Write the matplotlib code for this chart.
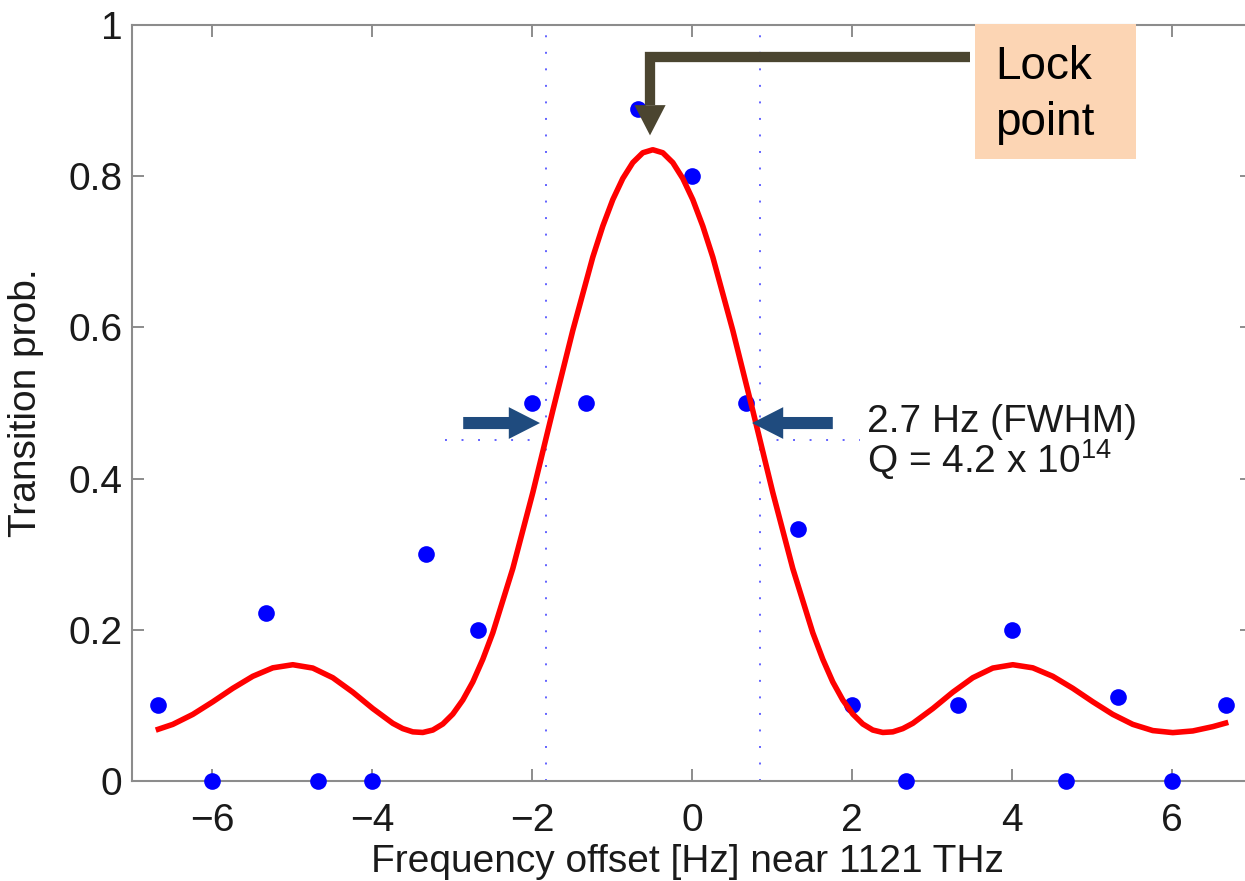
import matplotlib
matplotlib.use("Agg")
import matplotlib.pyplot as plt
from matplotlib.patches import FancyArrow, Polygon, Rectangle

plt.rcParams["font.family"] = ["Liberation Sans", "DejaVu Sans"]
plt.rcParams["mathtext.fontset"] = "custom"
plt.rcParams["mathtext.rm"] = "Liberation Sans"

# measured points (frequency offset in Hz, transition probability)
freq = [-6.67, -6.0, -5.33, -4.67, -4.0, -3.33, -2.67, -2.0, -1.33, -0.67, 0.0,
        0.67, 1.33, 2.0, 2.67, 3.33, 4.0, 4.67, 5.33, 6.0, 6.67]
prob = [0.10, 0.0, 0.222, 0.0, 0.0, 0.30, 0.20, 0.50, 0.50, 0.889, 0.80,
        0.50, 0.333, 0.10, 0.0, 0.10, 0.20, 0.0, 0.111, 0.0, 0.10]

# fitted line shape
fit_x = [-6.67, -6.49, -6.24, -5.99, -5.74, -5.49, -5.24, -4.99, -4.74, -4.49,
         -4.24, -3.99, -3.74, -3.615, -3.49, -3.365, -3.24, -3.115, -2.99, -2.865,
         -2.74, -2.615, -2.49, -2.24, -1.99, -1.74, -1.49, -1.24, -1.115, -0.99,
         -0.865, -0.74, -0.615, -0.49, -0.365, -0.24, -0.115, 0.01, 0.135, 0.26,
         0.51, 0.76, 1.01, 1.26, 1.51, 1.635, 1.76, 1.885, 2.01, 2.135,
         2.26, 2.385, 2.51, 2.635, 2.76, 3.01, 3.26, 3.51, 3.76, 4.01,
         4.26, 4.51, 4.76, 5.01, 5.26, 5.51, 5.76, 6.01, 6.26, 6.51,
         6.67]
fit_y = [0.0685, 0.0749, 0.0881, 0.1048, 0.1226, 0.1385, 0.1497, 0.1538, 0.1494, 0.1366,
         0.1175, 0.0958, 0.0763, 0.0693, 0.0650, 0.0642, 0.0674, 0.0754, 0.0885, 0.1071,
         0.131, 0.161, 0.196, 0.281, 0.3815, 0.490, 0.596, 0.693, 0.734, 0.769,
         0.797, 0.818, 0.831, 0.835, 0.831, 0.818, 0.797, 0.769, 0.734, 0.693,
         0.596, 0.490, 0.3815, 0.281, 0.196, 0.161, 0.131, 0.1071, 0.0885, 0.0754,
         0.0674, 0.0642, 0.0650, 0.0693, 0.0763, 0.0958, 0.1175, 0.1366, 0.1494, 0.1538,
         0.1497, 0.1385, 0.1226, 0.1048, 0.0881, 0.0749, 0.0667, 0.0640, 0.0662, 0.0719,
         0.0766]

x_ticks = [-6, -4, -2, 0, 2, 4, 6]
y_ticks = [0, 0.2, 0.4, 0.6, 0.8, 1.0]
y_tick_labels = ["0", "0.2", "0.4", "0.6", "0.8", "1"]

half_left, half_right, half_level = -1.825, 0.85, 0.451
lock_x, lock_bar_y, lock_head_base, lock_tip = -0.525, 0.9577, 0.894, 0.854

spine_grey = "#8c8c8c"
dot_blue = "#6262ff"
arrow_blue = "#1f4b7e"
lock_brown = "#4b4530"
text_col = "#1a1a1a"

fig = plt.figure(figsize=(12.45, 8.81), dpi=100)
ax = fig.add_axes([132 / 1245, 100 / 881, 1120 / 1245, 756 / 881])

ax.plot(freq, prob, "o", color="#0000ff", markersize=12, markeredgewidth=0,
        clip_on=False, zorder=3)
ax.plot(fit_x, fit_y, color="red", linewidth=4.0, solid_joinstyle="round",
        zorder=4)

# half-maximum markers
for xv in (half_left, half_right):
    ax.axvline(xv, color=dot_blue, linewidth=1.4, dashes=(1, 7.5), zorder=2)
ax.plot([-3.09, half_left], [half_level] * 2, color=dot_blue, linewidth=1.4,
        dashes=(1, 7.5), zorder=2)
ax.plot([half_right, 2.1], [half_level] * 2, color=dot_blue, linewidth=1.4,
        dashes=(1, 7.5), zorder=2)

ax.add_patch(FancyArrow(-2.86, 0.4735, 0.96, 0, width=0.016, head_width=0.042,
                        head_length=0.39, length_includes_head=True,
                        color=arrow_blue, linewidth=0, zorder=5))
ax.add_patch(FancyArrow(1.76, 0.4735, -1.01, 0, width=0.016, head_width=0.042,
                        head_length=0.39, length_includes_head=True,
                        color=arrow_blue, linewidth=0, zorder=5))

# lock point elbow arrow
ax.plot([3.475, lock_x, lock_x], [lock_bar_y, lock_bar_y, lock_head_base],
        color=lock_brown, linewidth=7.4, solid_joinstyle="miter",
        solid_capstyle="butt", zorder=5)
ax.add_patch(Polygon([[lock_x - 0.195, lock_head_base], [lock_x + 0.195, lock_head_base],
                      [lock_x, lock_tip]], closed=True, color=lock_brown,
                     linewidth=0, zorder=5))

fig.text(867 / 1245, (881 - 432) / 881, "2.7 Hz (FWHM)", fontsize=28,
         color=text_col, va="baseline", ha="left")
fig.text(867 / 1245, (881 - 473) / 881, r"Q = 4.2 x 10$^{14}$", fontsize=28,
         color=text_col, va="baseline", ha="left")

ax.set_xlim(-7, 7)
ax.set_ylim(0, 1)
ax.set_xticks(x_ticks)
ax.set_yticks(y_ticks)
ax.set_yticklabels(y_tick_labels)
ax.tick_params(direction="in", length=8.6, width=1.4, color=spine_grey,
               top=True, right=True, labelsize=28, labelcolor=text_col)
ax.tick_params(axis="x", pad=16)
ax.tick_params(axis="y", pad=7)
for spine in ax.spines.values():
    spine.set_color(spine_grey)
    spine.set_linewidth(1.5)

ax.set_xlabel("Frequency offset [Hz] near 1121 THz", fontsize=28, color=text_col)
ax.set_ylabel("Transition prob.", fontsize=28, color=text_col)
ax.xaxis.set_label_coords(0.496, -0.083)
ax.yaxis.set_label_coords(-0.079, 0.5)

# lock point box
fig.patches.append(Rectangle((975 / 1245, (881 - 159) / 881), 161 / 1245, 135 / 881,
                             transform=fig.transFigure, facecolor="#fcd5b4",
                             edgecolor="none", zorder=10))
narrow = ["Liberation Sans Narrow", "Liberation Sans"]
fig.text(995 / 1245, (881 - 79) / 881, "Lock", fontsize=33, family=narrow,
         color="black", va="baseline", ha="left", zorder=11)
fig.text(995 / 1245, (881 - 135) / 881, "point", fontsize=33, family=narrow,
         color="black", va="baseline", ha="left", zorder=11)

fig.savefig("out.png", dpi=100)
